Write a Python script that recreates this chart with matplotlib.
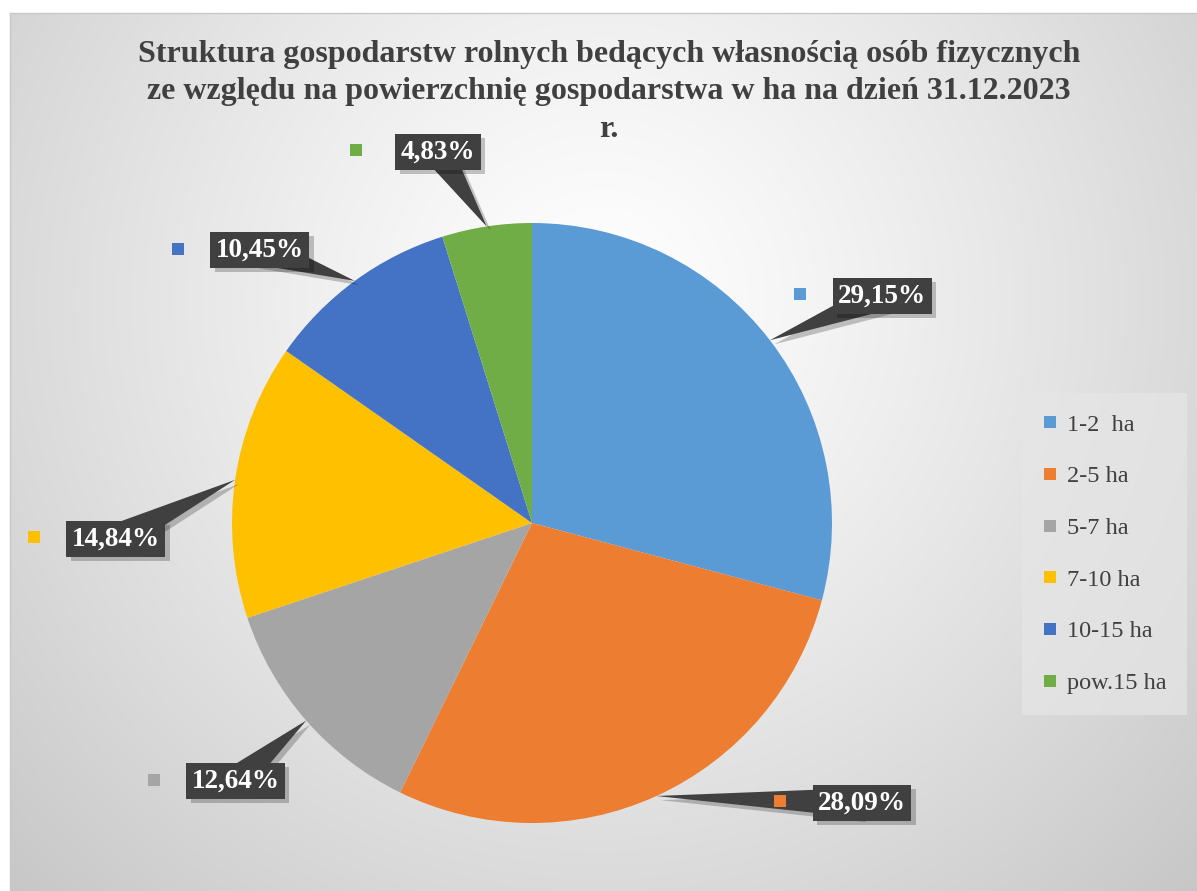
# -*- coding: utf-8 -*-
# Struktura gospodarstw rolnych - wykres kolowy
import numpy as np
import matplotlib
matplotlib.use("Agg")
import matplotlib.pyplot as plt
import matplotlib.patheffects as pe
from matplotlib.patches import Polygon
from matplotlib.lines import Line2D

# Data
categories = ['1-2  ha', '2-5 ha', '5-7 ha', '7-10 ha', '10-15 ha', 'pow.15 ha']
shares = [29.15, 28.09, 12.64, 14.84, 10.45, 4.83]
colors = ['#5B9BD5', '#ED7D31', '#A5A5A5', '#FFC000', '#4472C4', '#70AD47']
label_texts = ['29,15%', '28,09%', '12,64%', '14,84%', '10,45%', '4,83%']

# label box centres (pie radius = 1, centre = 0,0)
label_pos = [(1.167, 0.757), (1.10, -0.933), (-0.987, -0.86),
             (-1.387, -0.053), (-0.907, 0.91), (-0.313, 1.237)]

title_lines = ['Struktura gospodarstw rolnych bedących własnością osób fizycznych',
               'ze względu na powierzchnię gospodarstwa w ha na dzień 31.12.2023',
               'r.']

W, H = 1197, 891
cx, cy, R = 532, 523, 300

fig = plt.figure(figsize=(W / 100, H / 100), dpi=100)
fig.patch.set_facecolor('white')
ax = fig.add_axes([0, 0, 1, 1])

# radial gradient background
yy, xx = np.mgrid[0:H, 0:W]
d = np.sqrt((xx - 600.0) ** 2 + (yy - 300.0) ** 2) / 900.0
v = 1.0 - 0.24 * np.clip(d, 0, 1) ** 1.2
bg = np.dstack([v, v, v])
bx0 = (10 - cx) / R
by1 = (cy - 13) / R
ax.imshow(bg[13:, 10:], extent=[bx0, (W - cx) / R, -(H - cy) / R, by1],
          zorder=0, interpolation='bilinear')
ax.plot([bx0, (W - cx) / R], [by1, by1], color='#c8c8c8', lw=1, zorder=1)
ax.plot([bx0, bx0], [by1, -(H - cy) / R], color='#c8c8c8', lw=1, zorder=1)

# pie
wedges, _ = ax.pie(shares, colors=colors, startangle=90, counterclock=False,
                   radius=1, center=(0, 0), frame=True,
                   wedgeprops=dict(linewidth=0))
for w in wedges:
    w.set_zorder(2)
ax.set_xlim(-cx / R, (W - cx) / R)
ax.set_ylim(-(H - cy) / R, cy / R)
ax.set_aspect('equal')
ax.axis('off')

# data labels with callouts
cum = np.cumsum([0] + shares[:-1])
shadow = [pe.SimplePatchShadow(offset=(3, -3), shadow_rgbFace='black', alpha=0.22),
          pe.Normal()]
for i, (p, c0) in enumerate(zip(shares, cum)):
    ang = np.deg2rad(90 - (c0 + p / 2) * 3.6)
    tip = np.array([np.cos(ang), np.sin(ang)])
    lx, ly = label_pos[i]
    base = np.array([lx, ly])
    dvec = base - tip
    perp = np.array([-dvec[1], dvec[0]]) / np.linalg.norm(dvec)
    hw = 0.05
    callout = Polygon([tip, base + perp * hw, base - perp * hw],
                      closed=True, fc='#404040', ec='none', zorder=4)
    callout.set_path_effects(shadow)
    ax.add_patch(callout)
    t = ax.text(lx, ly, label_texts[i], fontsize=19.5, family='Liberation Serif',
                weight='bold', color='white', ha='center', va='center', zorder=5,
                bbox=dict(boxstyle='square,pad=0.2', fc='#404040', ec='none'))
    t.get_bbox_patch().set_path_effects(shadow)
    ax.scatter([lx - 82 / R], [ly + 0.005], marker='s', s=75, color=colors[i],
               linewidths=0, zorder=6)

# title, one line at a time
for line, base_y in zip(title_lines, [62, 99.5, 137]):
    fig.text(609 / W, 1 - base_y / H, line, ha='center', va='baseline', fontsize=23,
             family='Liberation Serif', weight='bold', color='#404040')

# legend
handles = [Line2D([], [], marker='s', linestyle='none', markersize=9,
                  markerfacecolor=c, markeredgewidth=0) for c in colors]
leg = fig.legend(handles, categories, loc='upper left',
                 bbox_to_anchor=(1022 / W, 1 - 393 / H),
                 prop=dict(family='Liberation Serif', size=17.5),
                 labelcolor='#404040', frameon=True, fancybox=False,
                 handlelength=0.6, handletextpad=0.4, labelspacing=1.22,
                 borderpad=0.85, borderaxespad=0)
leg.get_frame().set_facecolor('#e6e6e6')
leg.get_frame().set_edgecolor('none')
leg.get_frame().set_alpha(0.7)

fig.savefig('out.png', dpi=100)
